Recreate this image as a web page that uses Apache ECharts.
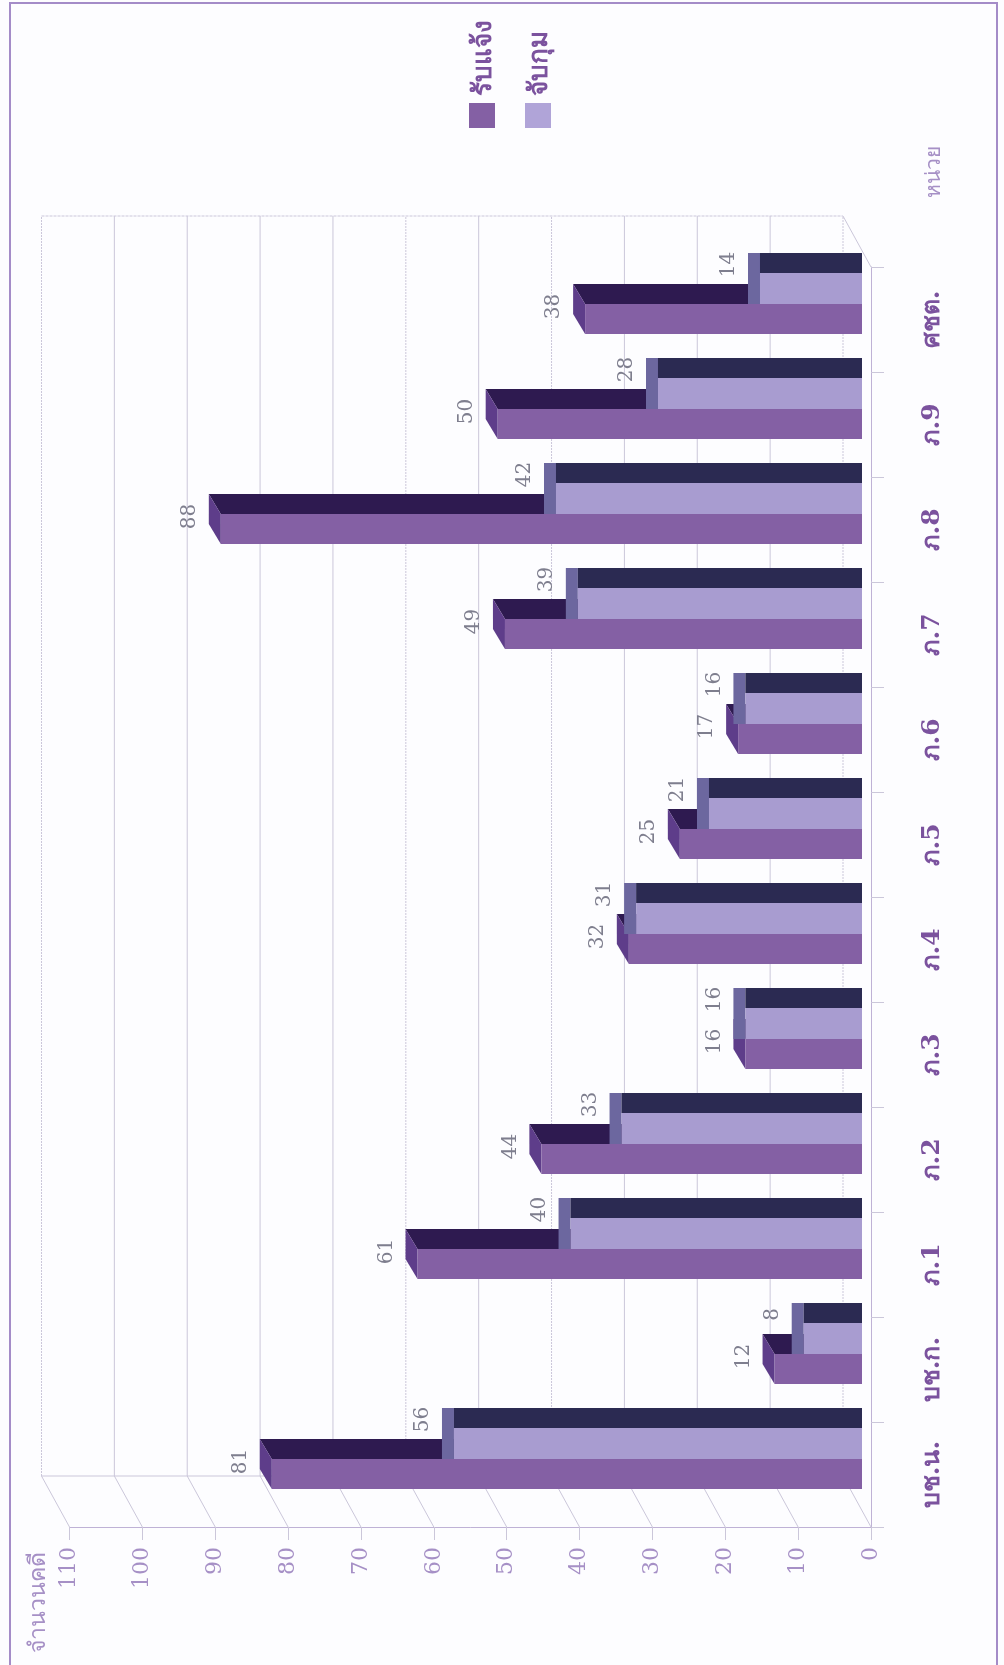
<!DOCTYPE html>
<html><head><meta charset="utf-8">
<style>html,body{margin:0;padding:0;background:#fdfdff}#c{width:1004px;height:1665px}</style>
<script src="https://cdn.jsdelivr.net/npm/echarts@6/dist/echarts.min.js"></script>
</head><body><div id="c"></div>
<script>
const categories = ['บช.น.','บช.ก.','ภ.1','ภ.2','ภ.3','ภ.4','ภ.5','ภ.6','ภ.7','ภ.8','ภ.9','ศชต.'];
const reported = [81,12,61,44,16,32,25,17,49,88,50,38];
const arrested = [56,8,40,33,16,31,21,16,39,42,28,14];
const valueTicks = [0,10,20,30,40,50,60,70,80,90,100,110];
const seriesNames = ['รับแจ้ง','จับกุม'];
const axisNameValue = 'จำนวนคดี';
const axisNameCategory = 'หน่วย';

const SERIF = '"DejaVu Serif","Liberation Serif","Noto Sans",serif';
const SANS = '"Noto Sans","DejaVu Sans",sans-serif';
const C = {grid:'#cbc7da',axis:'#bfb2d6',tick:'#a690c6',data:'#7e7e8e',cat:'#7b529e',
  front1:'#8460a4',cap1:'#5e3d8a',top1:'#2e1a50',front2:'#a89cd0',cap2:'#6c679f',top2:'#2b2a52',frame:'#a48cc8'};
const WALL_DX=-28, WALL_DY=-51, BASE_DX=-9, DX=-12, DY=-20;
const DOTTED = {0:1,40:1,60:1,110:1};

function poly(pts,fill){return {type:'polygon',shape:{points:pts},style:{fill:fill},silent:true};}
function rect(x,y,w,h,fill){return {type:'rect',shape:{x:x,y:y,width:w,height:h},style:{fill:fill},silent:true};}
function label(txt,x,y){return {type:'text',x:x,y:y,rotation:Math.PI/2,silent:true,
  style:{text:String(txt),fill:C.data,font:'20px '+SERIF,align:'center',verticalAlign:'middle'}};}

function renderReported(p,api){
  const v=api.value(0),i=api.value(1),e=api.coord([v,i]),b=api.coord([0,i]);
  const xe=e[0]+BASE_DX,xb=b[0]+BASE_DX,yt=e[1]-15.5,yb=e[1]+14.5;
  return {type:'group',children:[
    poly([[xe,yt],[xe+DX,yt+DY],[xb,yt+DY],[xb,yt]],C.top1),
    poly([[xe,yt],[xe+DX,yt+DY],[xe+DX,yb+DY],[xe,yb]],C.cap1),
    rect(xe,yt,xb-xe,yb-yt,C.front1),
    label(v,xe+DX-19,e[1]-13)
  ]};
}
function renderArrested(p,api){
  const v=api.value(0),i=api.value(1),e=api.coord([v,i]),b=api.coord([0,i]);
  const xe=e[0]+BASE_DX,xb=b[0]+BASE_DX,yt=e[1]-46.5,yb=e[1]-15.5;
  return {type:'group',children:[
    rect(xe+DX,yt+DY,-DX,yb-yt-DY,C.cap2),
    rect(xe,yt+DY,xb-xe,-DY,C.top2),
    rect(xe,yt,xb-xe,yb-yt,C.front2),
    label(v,xe+DX-19,e[1]-55)
  ]};
}
function renderWall(p,api){
  const v=api.value(0),f=api.coord([v,0]);
  const top=api.coord([v,categories.length-1]),h=api.size([0,1])[1];
  const x=f[0],y0=f[1]+h/2,y1=top[1]-h/2;
  const line=(a,b,c,d,dash)=>({type:'line',shape:{x1:a,y1:b,x2:c,y2:d},silent:true,
     style:{stroke:C.grid,lineWidth:1,lineDash:dash||null}});
  const kids=[
    line(x,y0,x+WALL_DX,y0+WALL_DY),
    line(x+WALL_DX,y0+WALL_DY,x+WALL_DX,y1+WALL_DY,DOTTED[v]?[2,1]:null)
  ];
  if(v===110){
    const r=api.coord([0,0])[0];
    kids.push(line(x+WALL_DX,y1+WALL_DY,r+WALL_DX,y1+WALL_DY,[3,1]));
    kids.push(line(x+WALL_DX,y0+WALL_DY,r+WALL_DX,y0+WALL_DY));
    kids.push(line(r+WALL_DX,y1+WALL_DY,r,y1));
  }
  return {type:'group',children:kids};
}
function rotText(txt,x,y,font,fill,align){
  return {type:'text',x:x,y:y,rotation:Math.PI/2,silent:true,
    style:{text:txt,font:font,fill:fill,align:align||'center',verticalAlign:'middle'}};
}
const chart=echarts.init(document.getElementById('c'),null,{renderer:'canvas'});
chart.setOption({
  animation:false,
  backgroundColor:'#fdfdff',
  grid:{left:69.5,right:133,top:267,bottom:138},
  xAxis:{type:'value',min:0,max:110,interval:10,inverse:true,position:'bottom',
    splitLine:{show:false},
    axisLine:{show:true,onZero:false,lineStyle:{color:C.axis,width:1}},
    axisTick:{show:true,length:13,lineStyle:{color:C.grid}},
    axisLabel:{rotate:90,margin:20,fontFamily:SERIF,fontSize:22,color:C.tick}},
  yAxis:{type:'category',data:categories,position:'right',
    axisLine:{show:true,onZero:false,lineStyle:{color:C.axis,width:1}},
    axisTick:{show:true,length:13,alignWithLabel:false,lineStyle:{color:C.grid}},
    axisLabel:{rotate:90,margin:61,fontFamily:SERIF,fontSize:25,fontWeight:'bold',color:C.cat,align:'center',verticalAlign:'middle'}},
  series:[
    {type:'custom',name:'wall',z:1,silent:true,renderItem:renderWall,data:valueTicks.map(v=>[v]),encode:{x:0},clip:false},
    {type:'custom',name:seriesNames[0],z:3,renderItem:renderReported,data:reported.map((v,i)=>[v,i]),encode:{x:0,y:1},clip:false},
    {type:'custom',name:seriesNames[1],z:4,renderItem:renderArrested,data:arrested.map((v,i)=>[v,i]),encode:{x:0,y:1},clip:false}
  ],
  graphic:[
    {type:'rect',shape:{x:10,y:3,width:987,height:1680},style:{fill:'none',stroke:C.frame,lineWidth:2},silent:true},
    {type:'rect',shape:{x:469,y:103,width:26,height:25},style:{fill:C.front1},silent:true},
    {type:'rect',shape:{x:525,y:103,width:26,height:25},style:{fill:'#b0a4d8'},silent:true},
    rotText(seriesNames[0],484,96,'bold 26px '+SERIF,C.cat,'left'),
    rotText(seriesNames[1],540,96,'bold 26px '+SERIF,C.cat,'left'),
    rotText(axisNameValue,38,1602,'23px '+SANS,C.tick),
    rotText(axisNameCategory,934,172,'21px '+SANS,C.tick)
  ]
});
</script></body></html>
